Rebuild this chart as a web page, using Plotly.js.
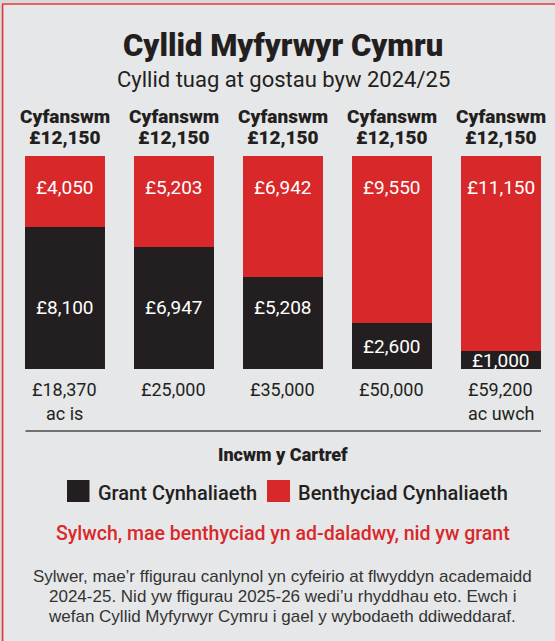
<!DOCTYPE html>
<html>
<head>
<meta charset="utf-8">
<script src="https://cdn.plot.ly/plotly-3.0.1.min.js"></script>
<style>
  html, body { margin: 0; padding: 0; background: #e6e7e8; }
  #chart { width: 555px; height: 641px; }
</style>
</head>
<body>
<div id="chart"></div>
<script>
// ---------- data ----------
const categories = ["£18,370", "£25,000", "£35,000", "£50,000", "£59,200"];
const categorySub = ["ac is", "", "", "", "ac uwch"];
const grant = [8100, 6947, 5208, 2600, 1000];
const loan = [4050, 5203, 6942, 9550, 11150];
const seriesNames = ["Grant Cynhaliaeth", "Benthyciad Cynhaliaeth"];
const headerLabel = "Cyfanswm";
const titleText = "Cyllid Myfyrwyr Cymru";
const subtitleText = "Cyllid tuag at gostau byw 2024/25";
const axisTitleText = "Incwm y Cartref";
const noteText = "Sylwch, mae benthyciad yn ad-daladwy, nid yw grant";
const footerLines = [
  "Sylwer, mae’r ffigurau canlynol yn cyfeirio at flwyddyn academaidd",
  "2024-25. Nid yw ffigurau 2025-26 wedi’u rhyddhau eto. Ewch i",
  "wefan Cyllid Myfyrwyr Cymru i gael y wybodaeth ddiweddaraf."
];

// ---------- styling ----------
const W = 555, H = 641;
const RED = "#d9282a", BLACK = "#231f20", BG = "#e6e7e8", TEXT = "#231f20";
const FONT = "Roboto, 'Open Sans', sans-serif";
const FOOTFONT = "'Liberation Sans', Arial, sans-serif";
const px = x => x / W;
const py = y => 1 - y / H;
const fmt = v => "£" + String(v).replace(/\B(?=(\d{3})+(?!\d))/g, ",");

const totals = grant.map((g, i) => g + loan[i]);
const yMax = Math.max(...totals);

const traces = [
  { type: "bar", x: categories, y: grant, name: seriesNames[0],
    marker: { color: BLACK, line: { width: 0 } }, hoverinfo: "skip", showlegend: false },
  { type: "bar", x: categories, y: loan, name: seriesNames[1],
    marker: { color: RED, line: { width: 0 } }, hoverinfo: "skip", showlegend: false }
];

const ann = [];
// title + subtitle
ann.push({ text: titleText, xref: "paper", yref: "paper", x: px(283), y: py(46),
  xanchor: "center", yanchor: "middle", showarrow: false,
  font: { family: FONT, size: 31, color: TEXT, weight: 900 } });
ann.push({ text: subtitleText, xref: "paper", yref: "paper", x: px(283), y: py(79),
  xanchor: "center", yanchor: "middle", showarrow: false,
  font: { family: FONT, size: 22, color: TEXT } });

categories.forEach((c, i) => {
  // column headers
  ann.push({ text: headerLabel, xref: "x", yref: "paper", x: c, y: py(117),
    xanchor: "center", yanchor: "middle", showarrow: false,
    font: { family: FONT, size: 19, color: TEXT, weight: 900 } });
  ann.push({ text: fmt(totals[i]), xref: "x", yref: "paper", x: c, y: py(137),
    xanchor: "center", yanchor: "middle", showarrow: false,
    font: { family: FONT, size: 19, color: TEXT, weight: 900 } });
  // value labels
  ann.push({ text: fmt(loan[i]), xref: "x", yref: "y", x: c, y: totals[i] * 0.85,
    xanchor: "center", yanchor: "middle", showarrow: false,
    font: { family: FONT, size: 19, color: "#ffffff" } });
  const by = grant[i] > 0.4 * totals[i] ? 0.29 * totals[i] : grant[i] / 2;
  ann.push({ text: fmt(grant[i]), xref: "x", yref: "y", x: c, y: by,
    xanchor: "center", yanchor: "middle", showarrow: false,
    font: { family: FONT, size: 19, color: "#ffffff" } });
  // category labels
  ann.push({ text: c, xref: "x", yref: "paper", x: c, y: py(389),
    xanchor: "center", yanchor: "middle", showarrow: false,
    font: { family: FONT, size: 18, color: TEXT } });
  if (categorySub[i]) {
    ann.push({ text: categorySub[i], xref: "x", yref: "paper", x: c, y: py(413),
      xanchor: "center", yanchor: "middle", showarrow: false,
      font: { family: FONT, size: 18, color: TEXT } });
  }
});

// axis title
ann.push({ text: axisTitleText, xref: "paper", yref: "paper", x: px(283), y: py(454),
  xanchor: "center", yanchor: "middle", showarrow: false,
  font: { family: FONT, size: 18, color: TEXT, weight: 900 } });
// legend texts
ann.push({ text: seriesNames[0], xref: "paper", yref: "paper", x: px(96), y: py(493),
  xanchor: "left", yanchor: "middle", showarrow: false,
  font: { family: FONT, size: 20, color: TEXT, weight: 500 } });
ann.push({ text: seriesNames[1], xref: "paper", yref: "paper", x: px(296), y: py(493),
  xanchor: "left", yanchor: "middle", showarrow: false,
  font: { family: FONT, size: 20, color: TEXT, weight: 500 } });
// note
ann.push({ text: noteText, xref: "paper", yref: "paper", x: px(283), y: py(533),
  xanchor: "center", yanchor: "middle", showarrow: false,
  font: { family: FONT, size: 19.5, color: RED, weight: 500 } });
// footer
footerLines.forEach((t, k) => {
  ann.push({ text: t, xref: "paper", yref: "paper", x: px(282), y: py(576 + 20 * k),
    xanchor: "center", yanchor: "middle", showarrow: false,
    font: { family: FOOTFONT, size: 17, color: "#333333" } });
});

const shapes = [
  // outer strips
  { type: "rect", xref: "paper", yref: "paper", x0: 0, x1: 1, y0: py(3), y1: 1,
    fillcolor: "#d9d9d9", line: { width: 0 } },
  { type: "rect", xref: "paper", yref: "paper", x0: 0, x1: px(2), y0: 0, y1: 1,
    fillcolor: "#d9d9d9", line: { width: 0 } },
  // red frame
  { type: "line", xref: "paper", yref: "paper", x0: px(2), x1: 1, y0: py(4), y1: py(4),
    line: { color: "#e0383a", width: 1.6 } },
  { type: "line", xref: "paper", yref: "paper", x0: px(2.6), x1: px(2.6), y0: py(4), y1: 0,
    line: { color: "#e0383a", width: 1.6 } },
  // separator
  { type: "line", xref: "paper", yref: "paper", x0: px(25.5), x1: px(541), y0: py(431), y1: py(431),
    line: { color: "#4a4a4a", width: 1.5 } },
  // legend swatches
  { type: "rect", xref: "paper", yref: "paper", x0: px(67), x1: px(89.5), y0: py(502), y1: py(480),
    fillcolor: BLACK, line: { width: 0 } },
  { type: "rect", xref: "paper", yref: "paper", x0: px(267), x1: px(290), y0: py(502), y1: py(480),
    fillcolor: RED, line: { width: 0 } }
];

const layout = {
  width: W, height: H,
  margin: { l: 0, r: 0, t: 0, b: 0 },
  paper_bgcolor: BG, plot_bgcolor: BG,
  barmode: "stack", bargap: 0.266,
  showlegend: false,
  xaxis: { type: "category", domain: [px(10), 1], range: [-0.5, 4.5],
    showticklabels: false, showgrid: false, zeroline: false, showline: false, ticks: "", fixedrange: true },
  yaxis: { domain: [py(369), py(155.5)], range: [0, yMax],
    showticklabels: false, showgrid: false, zeroline: false, showline: false, ticks: "", fixedrange: true },
  annotations: ann,
  shapes: shapes
};

Plotly.newPlot("chart", traces, layout, { displayModeBar: false, staticPlot: true });
</script>
</body>
</html>
